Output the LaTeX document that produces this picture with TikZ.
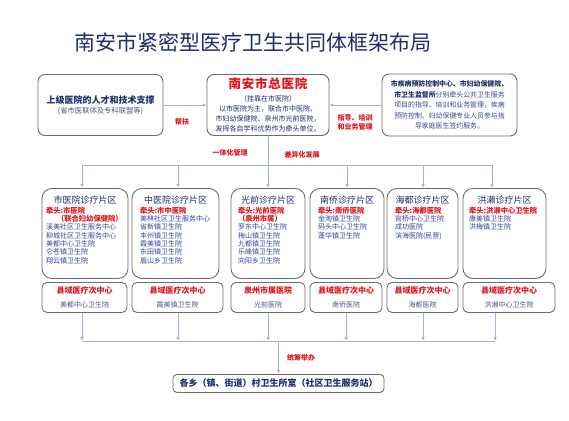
\documentclass[tikz,border=0pt]{standalone}
\usepackage{fontspec}
\setmainfont{Noto Sans CJK SC}
\usetikzlibrary{arrows.meta}
\definecolor{navy}{HTML}{1F2D6B}
\definecolor{listc}{HTML}{33469A}
\definecolor{redc}{HTML}{E3141B}
\definecolor{linec}{HTML}{A3B6CE}
\definecolor{boxc}{HTML}{6E6E6E}
\definecolor{subc}{HTML}{4B5A82}
\newcommand{\dbody}[4]{\parbox[c][90pt][t]{#1}{\color{navy}\centering{\fontsize{9}{9}\selectfont\rule{0pt}{15pt}#3\par}\vspace{1.5pt}\raggedright\leftskip=#2\relax\fontsize{7}{8.3}\selectfont\color{listc}#4\par}}
\newcommand{\leadt}[1]{{\color{redc}\bfseries\fontsize{7.3}{8.3}\selectfont #1}}
\tikzset{
 box/.style={draw=boxc, line width=0.9pt, rounded corners=7pt, fill=white, inner sep=0pt, align=center},
 dbox/.style={box, rounded corners=10pt, anchor=north, minimum height=90pt},
 sbox/.style={box, rounded corners=5pt, anchor=north, minimum height=30pt, font=\fontsize{7}{14}\selectfont},
 conn/.style={draw=linec, line width=0.9pt},
 arr/.style={conn, -{Latex[length=4pt,width=3.5pt]}},
 lab/.style={text=redc, font=\fontsize{7}{9}\selectfont\bfseries, inner sep=0pt, align=center},
}
\newcommand{\sbody}[2]{{\color{redc}\bfseries\fontsize{8}{9}\selectfont #1}\\{\color{subc}#2}}
\begin{document}
\begin{tikzpicture}[x=1pt,y=-1pt]
\useasboundingbox[fill=white] (0,0) rectangle (569,420);
% title
\node[font=\fontsize{21}{22}\selectfont, text=navy, inner sep=0pt] (title) at (253,42) {南安市紧密型医疗卫生共同体框架布局};
% top row
\node[box, minimum width=125pt, minimum height=61pt, font=\fontsize{7.3}{10}\selectfont] (tl) at (100.5,105)
 {{\color{navy}\bfseries\fontsize{9}{10}\selectfont 上级医院的人才和技术支撑}\\{\color{subc}(省市医联体及专科联盟等)}};
\node[box, minimum width=122pt, minimum height=61pt, font=\fontsize{7}{10}\selectfont, text=navy] (hq) at (268,105)
 {{\color{redc}\bfseries\fontsize{12.5}{14}\selectfont\addfontfeature{LetterSpace=6}南安市总医院}\\[2.5pt]（挂靠在市医院）\\以市医院为主，联合市中医院、\\市妇幼保健院、泉州市光前医院，\\发挥各自学科优势作为牵头单位。};
\node[box, minimum width=135pt, minimum height=62pt, font=\fontsize{6.9}{10.5}\selectfont, text=listc] (rt) at (449.5,105)
 {{\bfseries\color{navy}市疾病预防控制中心、市妇幼保健院、}\\{\bfseries\color{navy}市卫生监督所}分别牵头公共卫生服务\\项目的指导、培训和业务管理，疾病\\预防控制、妇幼保健专业人员参与指\\导家庭医生签约服务。};
\draw[arr] (tl) -- (hq);
\draw[arr] (rt) -- (hq);
\node[lab] (l1) at (182,122) {帮扶};
\node[lab] (l2) at (355,122.5) {指导、培训\\和业务管理};
% district boxes
\node[dbox, minimum width=86pt] (d1) at (85,188) {\dbody{86pt}{4pt}{市医院诊疗片区}{\leadt{牵头:市医院}\\\hspace*{11pt}\leadt{（联合妇幼保健院）}\\溪美社区卫生服务中心\\柳城社区卫生服务中心\\美都中心卫生院\\仑苍镇卫生院\\翔云镇卫生院}};
\node[dbox, minimum width=87pt] (d2) at (175.5,188) {\dbody{87pt}{8pt}{中医院诊疗片区}{\leadt{牵头:市中医院}\\美林社区卫生服务中心\\省新镇卫生院\\丰州镇卫生院\\霞美镇卫生院\\东田镇卫生院\\眉山乡卫生院}};
\node[dbox, minimum width=74pt] (d3) at (268,188) {\dbody{74pt}{7pt}{光前诊疗片区}{\leadt{牵头:光前医院}\\\leadt{（泉州市属）}\\罗东中心卫生院\\梅山镇卫生院\\九都镇卫生院\\乐峰镇卫生院\\向阳乡卫生院}};
\node[dbox, minimum width=74pt] (d4) at (347,188) {\dbody{74pt}{8pt}{南侨诊疗片区}{\leadt{牵头:南侨医院}\\金淘镇卫生院\\码头中心卫生院\\蓬华镇卫生院}};
\node[dbox, minimum width=71pt] (d5) at (422.5,188) {\dbody{71pt}{8pt}{海都诊疗片区}{\leadt{牵头:海都医院}\\官桥中心卫生院\\成功医院\\滨海医院(民营)}};
\node[dbox, minimum width=83pt] (d6) at (504.5,188) {\dbody{83pt}{6pt}{洪濑诊疗片区}{\leadt{牵头:洪濑中心卫生院}\\康美镇卫生院\\洪梅镇卫生院}};
% upper bus
\coordinate (b1) at (82,165);
\coordinate (b2) at (178,165);
\coordinate (b3) at (268,165);
\coordinate (b4) at (347,165);
\coordinate (b5) at (423,165);
\coordinate (b6) at (492,165);
\draw[conn] (hq.south) -- (b3);
\draw[conn] (b1) -- (b6);
\draw[arr] (b1) -- (b1 |- d1.north);
\draw[arr] (b2) -- (b2 |- d2.north);
\draw[arr] (b3) -- (d3.north);
\draw[arr] (b4) -- (b4 |- d4.north);
\draw[arr] (b5) -- (b5 |- d5.north);
\draw[arr] (b6) -- (b6 |- d6.north);
\node[lab] (l3) at (230,153) {一体化管理};
\node[lab] (l4) at (302,155) {差异化发展};
% sub-centre row
\node[sbox, minimum width=85pt] (s1) at (84.5,282) {\sbody{县域医疗次中心}{美都中心卫生院}};
\node[sbox, minimum width=91pt] (s2) at (177.5,282) {\sbody{县域医疗次中心}{霞美镇卫生院}};
\node[sbox, minimum width=74pt] (s3) at (268,282) {\sbody{泉州市属医院}{光前医院}};
\node[sbox, minimum width=72pt] (s4) at (346,282) {\sbody{县域医疗次中心}{南侨医院}};
\node[sbox, minimum width=71pt] (s5) at (422.5,282) {\sbody{县域医疗次中心}{海都医院}};
\node[sbox, minimum width=92pt] (s6) at (509,282) {\sbody{县域医疗次中心}{洪濑中心卫生院}};
% lower bus
\coordinate (c1) at (82,341);
\coordinate (c2) at (178,341);
\coordinate (c3) at (268,341);
\coordinate (c4) at (346,341);
\coordinate (c5) at (423,341);
\coordinate (c6) at (495,341);
\coordinate (cm) at (278.5,341);
\draw[conn] (c1) -- (c6);
\draw[arr] (s1.south -| c1) -- (c1);
\draw[arr] (s2.south -| c2) -- (c2);
\draw[arr] (s3.south -| c3) -- (c3);
\draw[arr] (s4.south -| c4) -- (c4);
\draw[arr] (s5.south -| c5) -- (c5);
\draw[arr] (s6.south -| c6) -- (c6);
\node[box, rounded corners=4pt, minimum width=211pt, minimum height=18pt, anchor=north, font=\bfseries\fontsize{9}{10}\selectfont, text=navy] (vb) at (278.5,374) {各乡（镇、街道）村卫生所室（社区卫生服务站）};
\draw[arr] (cm) -- (vb.north);
\node[lab] (l5) at (301,358) {统筹举办};
\end{tikzpicture}
\end{document}
